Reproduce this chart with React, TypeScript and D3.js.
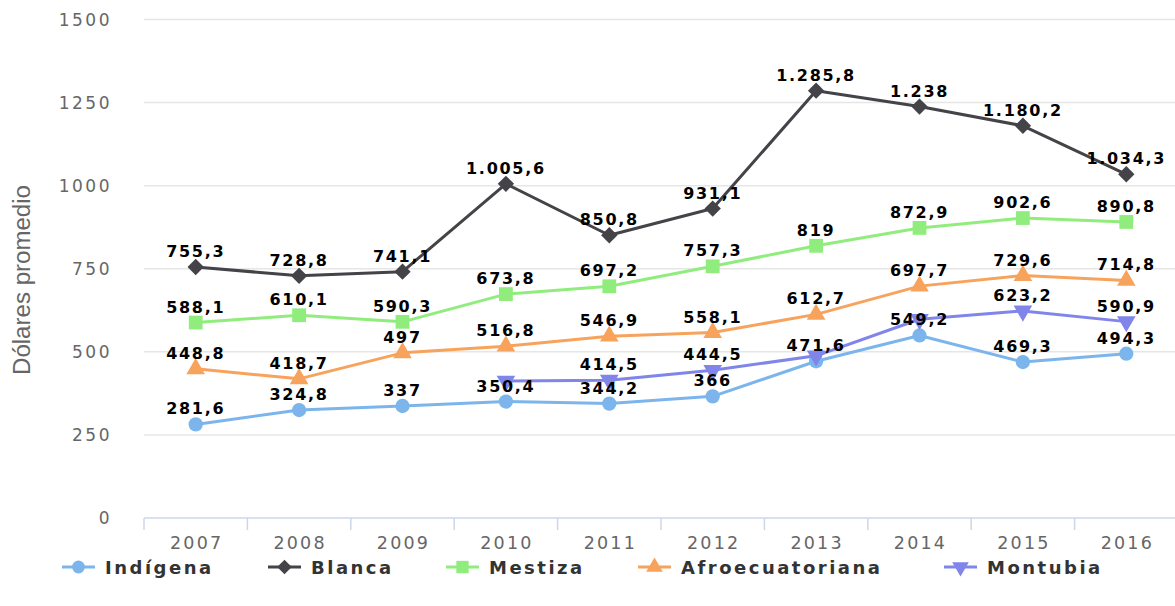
import React from "react";
import * as d3 from "d3";

const years = ["2007", "2008", "2009", "2010", "2011", "2012", "2013", "2014", "2015", "2016"];
const yTicks = [0, 250, 500, 750, 1000, 1250, 1500];

const indigena = [281.6, 324.8, 337, 350.4, 344.2, 366, 471.6, 549.2, 469.3, 494.3];
const blanca = [755.3, 728.8, 741.1, 1005.6, 850.8, 931.1, 1285.8, 1238, 1180.2, 1034.3];
const mestiza = [588.1, 610.1, 590.3, 673.8, 697.2, 757.3, 819, 872.9, 902.6, 890.8];
const afro = [448.8, 418.7, 497, 516.8, 546.9, 558.1, 612.7, 697.7, 729.6, 714.8];
const montubia = [null, null, null, 412, 414.5, 444.5, 488, 598, 623.2, 590.9];
// labels that the original hides because they collide with others
const montubiaHidden = ["2010", "2013", "2014"];

const W = 1175;
const H = 606;
const FONT = "'DejaVu Sans', Verdana, sans-serif";

const series = [
  { name: "Indígena", values: indigena, color: "#7cb5ec", symbol: d3.symbolCircle, size: 160, hidden: [] as string[], lx: 62 },
  { name: "Blanca", values: blanca, color: "#434348", symbol: d3.symbolDiamond2, size: 170, hidden: [] as string[], lx: 268 },
  { name: "Mestiza", values: mestiza, color: "#90ed7d", symbol: d3.symbolSquare, size: 190, hidden: [] as string[], lx: 446 },
  { name: "Afroecuatoriana", values: afro, color: "#f7a35c", symbol: d3.symbolTriangle, size: 150, hidden: [] as string[], lx: 638 },
  { name: "Montubia", values: montubia, color: "#8085e9", symbol: d3.symbolTriangle, size: 150, hidden: montubiaHidden, lx: 944, flip: true },
];

function fmt(v: number) {
  // formato español: miles con "." y decimales con ","
  const s = d3.format(",")(v);
  return s.replace(/,/g, "#").replace(/\./g, ",").replace(/#/g, ".");
}

export default function App() {
  const x = d3.scaleBand().domain(years).range([144, 1178]);
  const y = d3.scaleLinear().domain([0, 1500]).range([518, 19.5]);
  const cx = (yr: string) => (x(yr) as number) + x.bandwidth() / 2;

  const line = d3
    .line<{ yr: string; v: number | null }>()
    .defined((d) => d.v != null)
    .x((d) => cx(d.yr))
    .y((d) => y(d.v as number));

  return (
    <div style={{ position: "absolute", left: 0, top: 0 }}>
      <svg width={W} height={H} style={{ display: "block", background: "#fff" }}>
        {/* grid */}
        {yTicks.map((t) => (
          <g key={t}>
            {t > 0 && <line x1={144} x2={1175} y1={y(t)} y2={y(t)} stroke="#e6e6e6" strokeWidth={1.5} />}
            <text x={112} y={y(t) + 6} textAnchor="end" fontFamily={FONT} fontSize={17} letterSpacing={2.5} fill="#666">
              {t}
            </text>
          </g>
        ))}
        {/* x axis */}
        <line x1={144} x2={1178} y1={518} y2={518} stroke="#ccd6eb" strokeWidth={1.5} />
        {[...years.map((yr) => x(yr) as number), 1178].map((p, i) => (
          <line key={i} x1={p} x2={p} y1={518} y2={530} stroke="#ccd6eb" strokeWidth={1.5} />
        ))}
        {years.map((yr) => (
          <text key={yr} x={cx(yr) + 1} y={549} textAnchor="middle" fontFamily={FONT} fontSize={17.5} letterSpacing={2.2} fill="#666">
            {yr}
          </text>
        ))}
        {/* axis title */}
        <text
          transform="translate(30,280) rotate(-90)"
          textAnchor="middle"
          fontFamily="'Liberation Sans Narrow', 'Arial Narrow', sans-serif"
          fontSize={23}
          textLength={190}
          lengthAdjust="spacingAndGlyphs"
          fill="#666"
        >
          Dólares promedio
        </text>
        {/* series */}
        {series.map((s) => {
          const pts = years.map((yr, i) => ({ yr, v: s.values[i] }));
          const sym = d3.symbol().type(s.symbol).size(s.size)();
          return (
            <g key={s.name}>
              <path d={line(pts) || ""} fill="none" stroke={s.color} strokeWidth={3} strokeLinejoin="round" />
              {pts
                .filter((p) => p.v != null)
                .map((p) => (
                  <path
                    key={p.yr}
                    d={sym || ""}
                    fill={s.color}
                    transform={`translate(${cx(p.yr)},${y(p.v as number)})${(s as any).flip ? " rotate(180)" : ""}`}
                  />
                ))}
            </g>
          );
        })}
        {/* data labels */}
        {series.map((s) => (
          <g key={s.name + "-lbl"}>
            {years.map((yr, i) => {
              const v = s.values[i];
              if (v == null || s.hidden.includes(yr)) return null;
              return (
                <text
                  key={yr}
                  x={cx(yr)}
                  y={y(v) - 10}
                  textAnchor="middle"
                  fontFamily={FONT}
                  fontSize={16}
                  fontWeight="bold"
                  letterSpacing={1.7}
                  fill="#000"
                >
                  {fmt(v)}
                </text>
              );
            })}
          </g>
        ))}
        {/* legend */}
        {series.map((s) => {
          const sym = d3.symbol().type(s.symbol).size(s.size * 0.8)();
          return (
            <g key={s.name + "-leg"} transform={`translate(${s.lx},567)`}>
              <line x1={0} x2={33} y1={0} y2={0} stroke={s.color} strokeWidth={3} />
              <path d={sym || ""} fill={s.color} transform={`translate(16.5,0)${(s as any).flip ? " rotate(180)" : ""}`} />
              <text x={43} y={7} fontFamily={FONT} fontSize={18} fontWeight="bold" letterSpacing={2.5} fill="#333">
                {s.name}
              </text>
            </g>
          );
        })}
      </svg>
    </div>
  );
}
